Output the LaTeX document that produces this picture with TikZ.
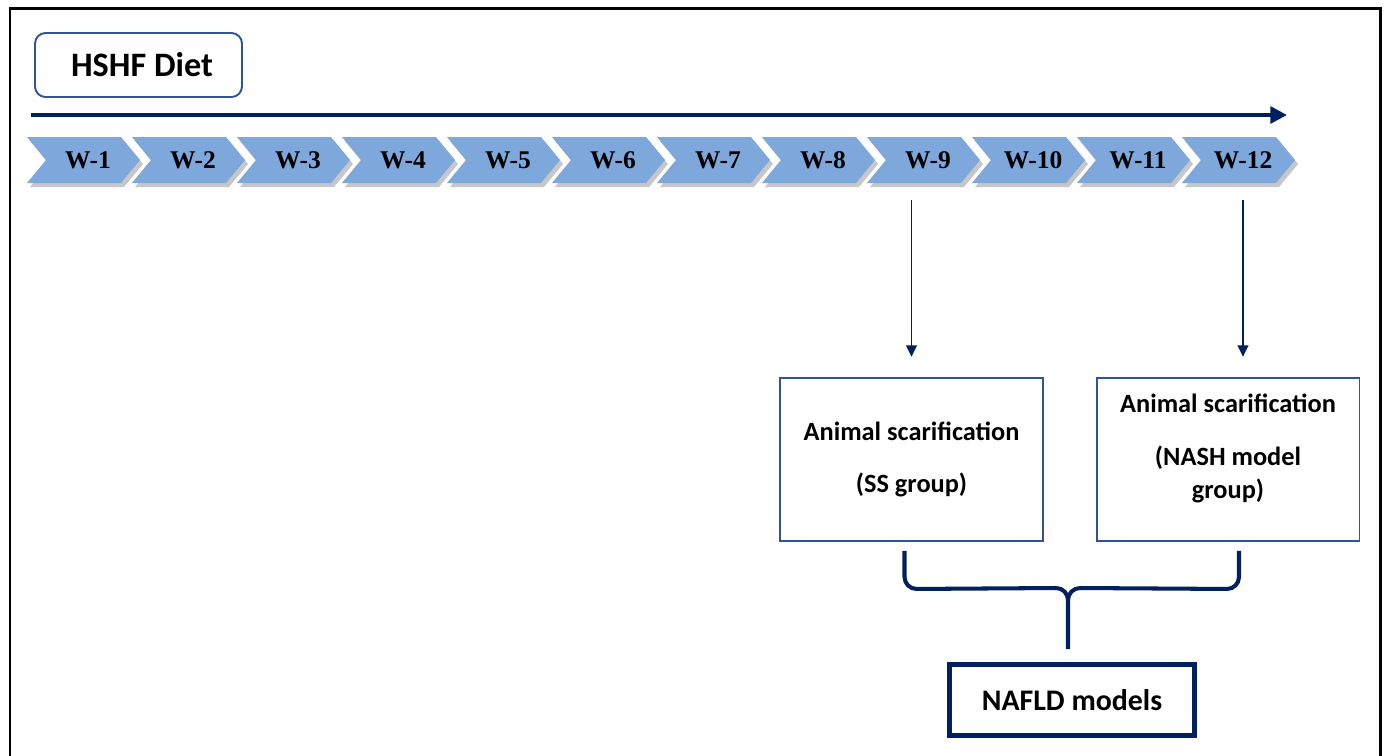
\documentclass[tikz,border=0pt]{standalone}
\usepackage{fontspec}
\setmainfont{Liberation Serif}
\newfontfamily\calibri{Carlito}
\usetikzlibrary{arrows.meta,calc}
\definecolor{navy}{RGB}{0,32,96}
\definecolor{boxblue}{RGB}{47,85,151}
\definecolor{chevblue}{RGB}{126,167,220}
\tikzset{
  chev/.style={fill=chevblue},
  chevshadow/.style={fill=black, opacity=0.22},
  wlabel/.style={font=\fontsize{14.5}{17}\selectfont\bfseries, minimum height=0.92cm, inner sep=0pt},
  dietbox/.style={draw=boxblue, line width=1.1pt, rounded corners=6pt, minimum width=4.14cm, minimum height=1.28cm, font=\calibri\bfseries\fontsize{19.5}{23}\selectfont},
  groupbox/.style={draw=boxblue, line width=1.1pt, minimum width=5.26cm, minimum height=3.26cm, align=center, font=\calibri\bfseries\fontsize{15}{19}\selectfont},
  modelbox/.style={draw=navy, line width=2.8pt, minimum width=4.9cm, minimum height=1.42cm, font=\calibri\bfseries\fontsize{17}{20}\selectfont},
  timeline/.style={navy, line width=2.3pt, -{Triangle[length=9.5pt,width=9.5pt]}},
  pick/.style={navy, line width=1.1pt, -{Triangle[length=6.5pt,width=6pt]}, shorten <=9.5pt, shorten >=11.5pt},
  brace/.style={navy, line width=2.3pt},
}
\begin{document}
\begin{tikzpicture}[x=0.02cm, y=-0.02cm]
  \clip (0,0) rectangle (1389,755);
  \fill[white] (0,0) rectangle (1389,755);
  % frame
  \draw[line width=1.7pt] (10,770) -- (10,8) -- (1380,8) -- (1380,770);
  % diet and timeline
  \node[dietbox] (hshf) at (138.5,65) {\hspace{4pt}HSHF Diet};
  \coordinate (tl start) at (31,115);
  \coordinate (tl end) at (1287,115);
  \draw[timeline] (tl start) -- (tl end);
  % weeks
  \foreach \i [evaluate=\i as \x using 27+105*(\i-1)] in {1,...,12} {
    \fill[chevshadow, shift={(3,4)}] (\x,137) -- ++(94,0) -- ++(19,23) -- ++(-19,23) -- ++(-94,0) -- ++(19,-23) -- cycle;
    \fill[chev] (\x,137) -- ++(94,0) -- ++(19,23) -- ++(-19,23) -- ++(-94,0) -- ++(19,-23) -- cycle;
    \node[wlabel] (w\i) at (\x+61,160) {W-\i};
  }
  % groups
  \node[groupbox] (ss) at (911.5,459.5) {Animal scarification\\[11pt](SS group)};
  \node[groupbox] (nash) at (1228,459.5) {Animal scarification\\[11pt](NASH model\\group)\\[-4pt]~};
  \node[modelbox] (nafld) at (1072,700) {NAFLD models};
  \draw[pick] (w9.south -| ss.north) -- (ss.north);
  \draw[pick] (w12.south) -- (w12.south |- nash.north);
  % brace
  \coordinate (mid) at (1068,588);
  \draw[brace] ($(ss.south)+(-7,9)$) -- ++(0,26) to[out=-90,in=180] ++(12,12) -- ($(mid)+(-12,0)$) to[out=0,in=90] ($(mid)+(0,12)$) -- ($(nafld.north)+(-4,-13)$);
  \draw[brace] ($(nash.south)+(11,9)$) -- ++(0,26) to[out=-90,in=0] ++(-12,12) -- ($(mid)+(12,0)$) to[out=180,in=90] ($(mid)+(0,12)$);
\end{tikzpicture}
\end{document}
